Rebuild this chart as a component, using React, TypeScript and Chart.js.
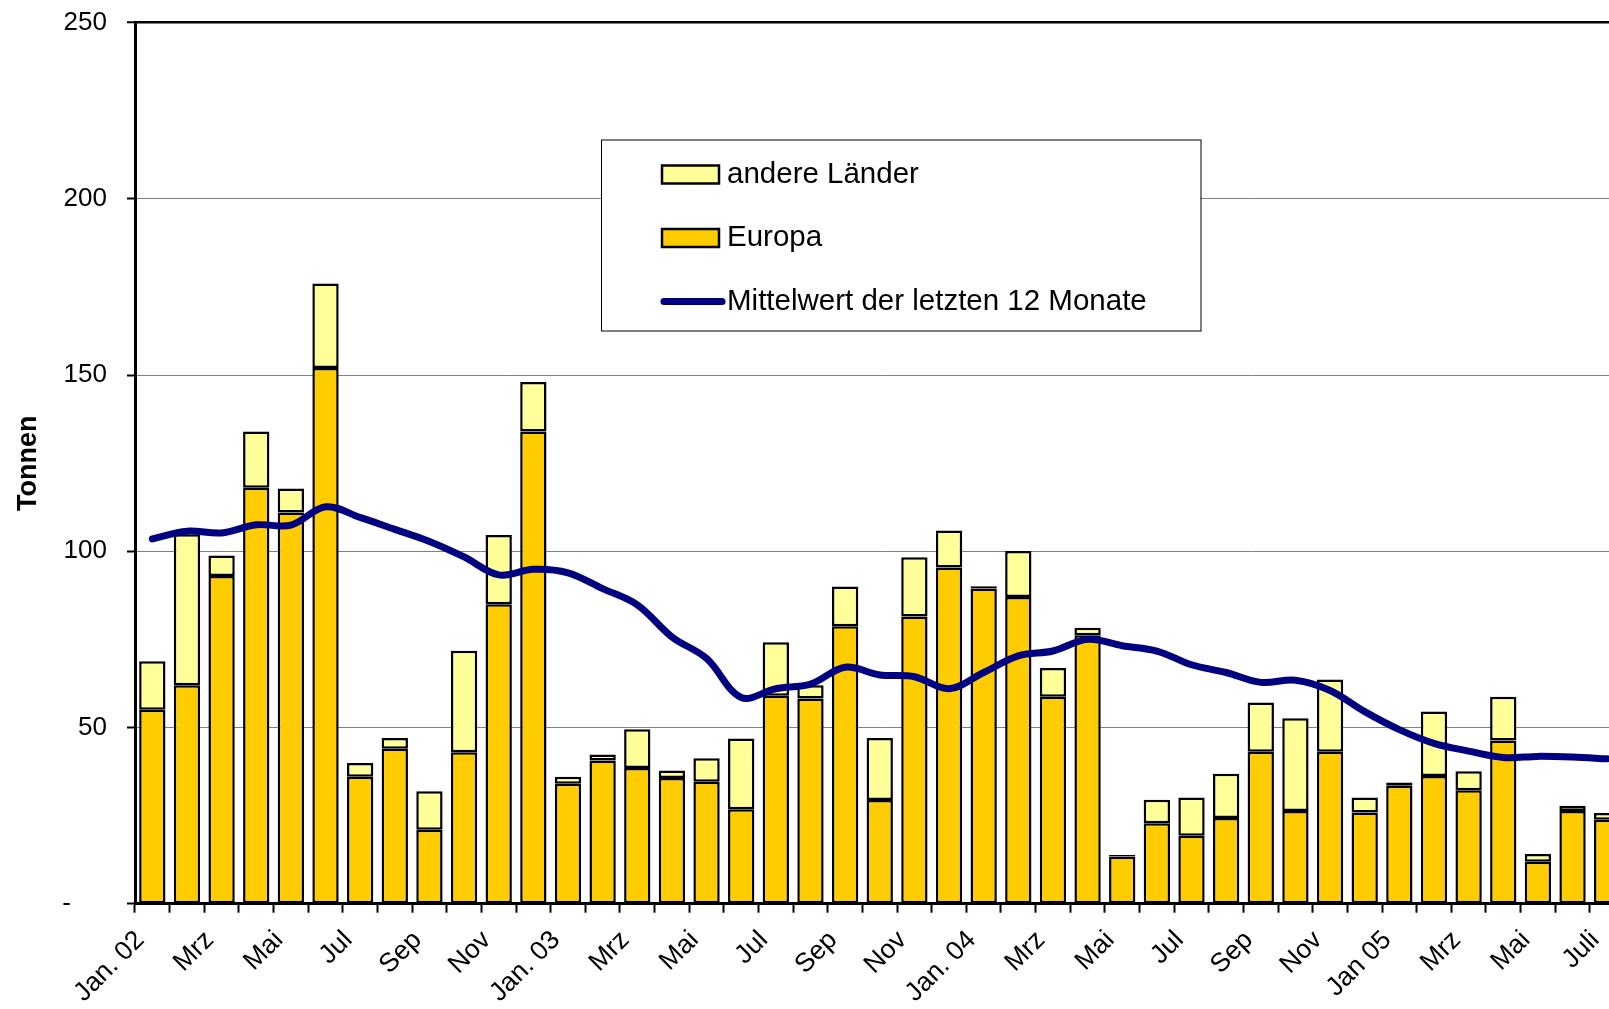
import React, { useEffect, useRef } from "react";
import { Chart, registerables } from "chart.js";

Chart.register(...registerables);

const categories = [
  "Jan. 02", "Feb", "Mrz", "Apr", "Mai", "Jun", "Jul", "Aug", "Sep", "Okt", "Nov", "Dez",
  "Jan. 03", "Feb", "Mrz", "Apr", "Mai", "Jun", "Jul", "Aug", "Sep", "Okt", "Nov", "Dez",
  "Jan. 04", "Feb", "Mrz", "Apr", "Mai", "Jun", "Jul", "Aug", "Sep", "Okt", "Nov", "Dez",
  "Jan 05", "Feb", "Mrz", "Apr", "Mai", "Jun", "Juli",
];

const europa = [
  55, 62, 93, 118, 111, 152, 36, 44, 21, 43, 85, 134,
  34, 40.6, 38.5, 35.7, 34.6, 26.8, 59, 58.2, 78.7, 29.4, 81.5, 95.4,
  89.4, 87, 58.7, 76.2, 13.4, 22.8, 19.3, 24.3, 43.1, 26.3, 43.1, 25.9,
  33.5, 36.2, 32.2, 46.3, 11.9, 26.3, 23.8,
];

const andereLaender = [
  13.8, 42.8, 5.8, 16, 6.8, 24, 3.9, 3, 10.9, 28.8, 19.6, 14,
  2, 1.7, 11, 2.1, 6.7, 20.1, 15.2, 3.8, 11.3, 17.6, 16.8, 10.5,
  0.7, 13.1, 8.2, 2.1, 0.4, 6.7, 10.8, 12.6, 14, 26.3, 20.5, 4.2,
  0.9, 18.3, 5.4, 12.4, 2.2, 1.5, 1.9,
];

const mittelwert = [
  103.5, 105.7, 105.2, 107.5, 107.4, 112.6, 109.6, 106.2, 102.8, 98.4, 93.3, 94.9,
  93.9, 89.4, 84.8, 75.7, 69.6, 58.5, 61, 62.3, 67.1, 64.9, 64.4, 61,
  65.6, 70.3, 71.7, 75, 73.2, 71.7, 67.8, 65.6, 62.8, 63.4, 60.5, 54.5,
  49.4, 45.5, 43.3, 41.5, 41.8, 41.6, 41.1,
];

const seriesNames = ["andere Länder", "Europa", "Mittelwert der letzten 12 Monate"];
const yAxisTitle = "Tonnen";
const yMin = 0;
const yMax = 250;
const yStep = 50;

const FONT = "'Liberation Sans', Arial, Helvetica, sans-serif";
const COLOR_EUROPA = "#FFCC00";
const COLOR_ANDERE = "#FFFF99";
const COLOR_LINE = "#000080";

// canvas is shifted up by this many pixels on the page
const SHIFT = 13;

const legendPlugin = {
  id: "boxLegend",
  afterDraw(chart: any) {
    const ctx = chart.ctx;
    ctx.save();
    const bx = 601, by = 139.5 + SHIFT, bw = 599.5, bh = 191;
    ctx.fillStyle = "#ffffff";
    ctx.fillRect(bx, by, bw, bh);
    ctx.strokeStyle = "#000000";
    ctx.lineWidth = 1;
    ctx.strokeRect(bx + 0.5, by + 0.5, bw, bh);

    const sx = 662, sw = 57, sh = 18;
    const rows = [174.5 + SHIFT, 238 + SHIFT, 301.5 + SHIFT];
    const textX = 727;
    ctx.font = `29.5px ${FONT}`;
    ctx.textBaseline = "middle";
    ctx.textAlign = "left";

    ctx.fillStyle = COLOR_ANDERE;
    ctx.fillRect(sx, rows[0] - sh / 2, sw, sh);
    ctx.lineWidth = 2.5;
    ctx.strokeStyle = "#000";
    ctx.strokeRect(sx, rows[0] - sh / 2, sw, sh);
    ctx.fillStyle = "#000";
    ctx.fillText(seriesNames[0], textX, rows[0]);

    ctx.fillStyle = COLOR_EUROPA;
    ctx.fillRect(sx, rows[1] - sh / 2, sw, sh);
    ctx.strokeRect(sx, rows[1] - sh / 2, sw, sh);
    ctx.fillStyle = "#000";
    ctx.fillText(seriesNames[1], textX, rows[1]);

    ctx.strokeStyle = COLOR_LINE;
    ctx.lineWidth = 7;
    ctx.lineCap = "round";
    ctx.beginPath();
    ctx.moveTo(sx + 2, rows[2]);
    ctx.lineTo(sx + 60, rows[2]);
    ctx.stroke();
    ctx.fillStyle = "#000";
    ctx.fillText(seriesNames[2], textX, rows[2]);
    ctx.restore();
  },
};

export default function App() {
  const canvasRef = useRef<HTMLCanvasElement | null>(null);

  useEffect(() => {
    const canvas = canvasRef.current;
    if (!canvas) return;
    const chart = new Chart(canvas, {
      type: "bar",
      data: {
        labels: categories,
        datasets: [
          {
            type: "line",
            label: seriesNames[2],
            data: mittelwert,
            borderColor: COLOR_LINE,
            backgroundColor: COLOR_LINE,
            borderWidth: 7,
            pointRadius: 0,
            tension: 0.35,
            fill: false,
            stack: "line",
            order: 0,
            borderCapStyle: "round",
            borderJoinStyle: "round",
          } as any,
          {
            type: "bar",
            label: seriesNames[1],
            data: europa,
            backgroundColor: COLOR_EUROPA,
            borderColor: "#000",
            borderWidth: 2.5,
            borderSkipped: false,
            barPercentage: 0.76,
            categoryPercentage: 1,
            stack: "bars",
            order: 1,
          } as any,
          {
            type: "bar",
            label: seriesNames[0],
            data: andereLaender,
            backgroundColor: COLOR_ANDERE,
            borderColor: "#000",
            borderWidth: 2.5,
            borderSkipped: false,
            barPercentage: 0.76,
            categoryPercentage: 1,
            stack: "bars",
            order: 2,
          } as any,
        ],
      },
      options: {
        responsive: false,
        animation: false,
        devicePixelRatio: 1,
        layout: { padding: { top: 7.5, right: 35.5, bottom: 0, left: 0 } },
        plugins: {
          legend: { display: false },
          tooltip: { enabled: false },
        },
        scales: {
          x: {
            stacked: true,
            offset: true,
            border: { display: true, color: "#000", width: 3 },
            grid: {
              offset: true,
              drawOnChartArea: false,
              drawTicks: true,
              tickLength: 9,
              tickColor: "#000",
              tickWidth: 2,
            },
            ticks: {
              autoSkip: false,
              minRotation: 45,
              maxRotation: 45,
              padding: 12,
              labelOffset: -12,
              color: "#000",
              font: { family: FONT, size: 26.5 },
              callback: (_v: any, i: number) => (i % 2 === 0 ? categories[i] : ""),
            },
            afterFit: (scale: any) => {
              scale.height = 105.3;
            },
          },
          y: {
            stacked: true,
            min: yMin,
            max: yMax,
            border: { display: true, color: "#000", width: 3 },
            grid: {
              color: (c: any) => (c.tick && c.tick.value === yMax ? "#000" : "#808080"),
              lineWidth: (c: any) => (c.tick && c.tick.value === yMax ? 2.5 : 1),
              tickLength: 8,
              tickColor: "#000",
              tickWidth: 2,
            },
            ticks: {
              stepSize: yStep,
              padding: 20,
              color: "#000",
              font: { family: FONT, size: 26 },
              callback: (v: any) => (Number(v) === 0 ? "-     " : String(v)),
            },
            title: {
              display: true,
              text: yAxisTitle,
              color: "#000",
              font: { family: FONT, size: 27, weight: "bold" },
              padding: { top: 12, bottom: 0 },
            },
            afterFit: (scale: any) => {
              scale.width = 135;
            },
          },
        },
      },
      plugins: [legendPlugin],
    });
    return () => chart.destroy();
  }, []);

  return (
    <div
      style={{
        position: "fixed",
        left: 0,
        top: 0,
        width: 1609,
        height: 1009,
        overflow: "hidden",
        background: "#fff",
      }}
    >
      <canvas
        ref={canvasRef}
        width={1660}
        height={1009 + SHIFT}
        style={{ display: "block", position: "absolute", left: 0, top: -SHIFT }}
      />
    </div>
  );
}
